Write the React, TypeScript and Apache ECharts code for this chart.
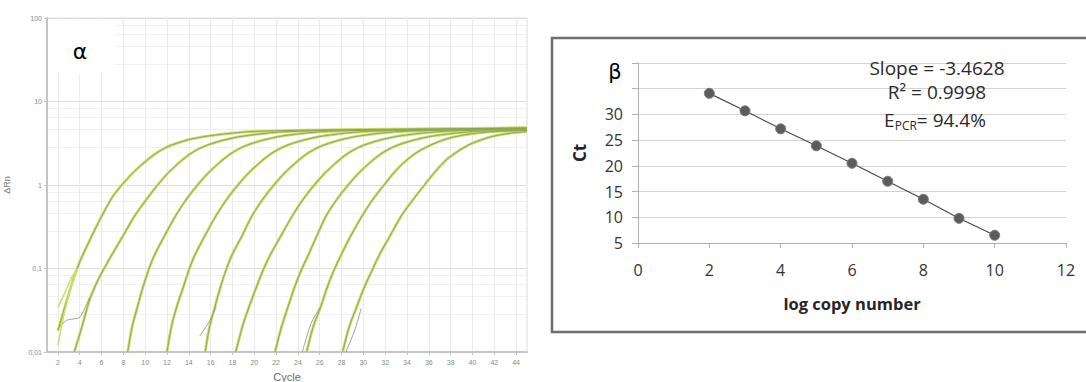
import React, { useEffect, useRef } from 'react';
import * as echarts from 'echarts';

// ---------- Left panel (α): amplification plot ----------
const cycleTicks = [2, 4, 6, 8, 10, 12, 14, 16, 18, 20, 22, 24, 26, 28, 30, 32, 34, 36, 38, 40, 42, 44];
const deltaRnLabels = ['0,01', '0,1', '1', '10', '100'];

const g1 = [[2, 0.018], [2.5, 0.03], [3, 0.05], [3.5, 0.08], [4, 0.12], [5, 0.23], [6, 0.42], [7, 0.72], [8, 1.05], [9, 1.45], [10, 1.9], [11, 2.4], [12, 2.85], [13, 3.2], [14, 3.5], [15, 3.72], [16, 3.9], [18, 4.18], [20, 4.38], [25, 4.55], [32, 4.65], [40, 4.75], [45, 4.85]];
const g2 = [[3.5, 0.01], [4.2, 0.02], [4.9, 0.042], [5.5, 0.065], [6, 0.088], [6.5, 0.115], [7, 0.15], [8, 0.25], [9, 0.42], [10, 0.64], [11, 0.95], [12, 1.35], [13, 1.8], [14, 2.3], [15, 2.75], [16, 3.1], [17, 3.4], [18, 3.65], [19, 3.85], [21, 4.15], [23, 4.35], [28, 4.55], [35, 4.65], [45, 4.8]];
const g3 = [[8.4, 0.01], [8.8, 0.02], [9.3, 0.035], [9.8, 0.06], [10.3, 0.095], [10.8, 0.14], [11.8, 0.25], [12.8, 0.43], [13.8, 0.68], [14.8, 1.0], [15.8, 1.4], [16.8, 1.85], [17.8, 2.35], [18.8, 2.8], [19.8, 3.15], [20.8, 3.45], [21.8, 3.7], [22.8, 3.9], [24.8, 4.2], [26.8, 4.4], [32, 4.55], [40, 4.65], [45, 4.75]];
const g4 = [[12.0, 0.01], [12.4, 0.02], [12.9, 0.035], [13.5, 0.06], [14.0, 0.095], [14.5, 0.14], [15.5, 0.25], [16.5, 0.43], [17.5, 0.68], [18.5, 1.0], [19.5, 1.4], [20.5, 1.85], [21.5, 2.35], [22.5, 2.8], [23.5, 3.15], [24.5, 3.45], [25.5, 3.7], [26.5, 3.9], [28.5, 4.2], [30.5, 4.4], [36, 4.55], [45, 4.7]];
const g5 = [[15.5, 0.01], [15.9, 0.02], [16.4, 0.035], [16.9, 0.06], [17.4, 0.095], [17.9, 0.14], [18.9, 0.25], [19.8, 0.43], [20.8, 0.68], [21.8, 1.0], [22.8, 1.4], [23.8, 1.85], [24.8, 2.35], [25.8, 2.8], [26.8, 3.15], [27.8, 3.45], [28.8, 3.7], [29.8, 3.9], [31.8, 4.2], [33.8, 4.4], [38, 4.55], [45, 4.7]];
const g6 = [[18.3, 0.01], [19, 0.022], [19.6, 0.037], [20.2, 0.06], [20.8, 0.095], [21.4, 0.14], [22.4, 0.24], [23.5, 0.43], [24.5, 0.68], [25.5, 1.0], [26.5, 1.4], [27.5, 1.85], [28.5, 2.35], [29.5, 2.8], [30.5, 3.15], [31.5, 3.45], [32.5, 3.7], [33.5, 3.9], [35.5, 4.2], [37.5, 4.4], [41, 4.55], [45, 4.65]];
const g7 = [[21.9, 0.01], [22.5, 0.02], [23.1, 0.035], [23.7, 0.06], [24.3, 0.095], [24.9, 0.14], [25.7, 0.24], [26.6, 0.43], [27.6, 0.68], [28.6, 1.0], [29.6, 1.4], [30.6, 1.85], [31.6, 2.35], [32.6, 2.8], [33.6, 3.15], [34.6, 3.45], [35.6, 3.7], [36.6, 3.9], [38.6, 4.2], [40.6, 4.4], [45, 4.55]];
const g8 = [[24.8, 0.01], [25.4, 0.02], [26.1, 0.035], [26.7, 0.06], [27.3, 0.095], [27.9, 0.14], [28.8, 0.24], [29.9, 0.43], [30.9, 0.68], [31.9, 1.0], [32.9, 1.45], [33.9, 1.95], [34.9, 2.45], [35.9, 2.9], [36.9, 3.3], [37.9, 3.65], [38.9, 3.9], [39.9, 4.1], [41.9, 4.35], [45, 4.5]];
const g9 = [[28.1, 0.01], [28.7, 0.02], [29.4, 0.035], [30.1, 0.06], [30.8, 0.095], [31.4, 0.14], [32.4, 0.24], [33.5, 0.43], [34.6, 0.68], [35.6, 1.0], [36.6, 1.45], [37.6, 2.0], [38.6, 2.5], [39.6, 3.0], [40.6, 3.4], [41.6, 3.75], [42.6, 4.0], [43.6, 4.2], [45, 4.35]];
const amplificationGroups = [g1, g2, g3, g4, g5, g6, g7, g8, g9];

// stray early replicate traces near the baseline
const s1 = [[2, 0.019], [2.8, 0.024], [4, 0.026], [4.9, 0.045]];
const s2 = [[2, 0.012], [2.6, 0.03], [3.2, 0.06], [3.8, 0.1]];
const s3 = [[2, 0.034], [2.6, 0.05], [3.2, 0.075], [3.8, 0.1]];
const s4 = [[15.0, 0.0155], [15.9, 0.0235], [16.5, 0.035]];
const s5 = [[24.4, 0.01], [25.2, 0.022], [26.0, 0.034]];
const s6 = [[28.4, 0.01], [29.2, 0.018], [29.8, 0.033]];
const grayStrays = [s1, s4, s5, s6];
const yellowStrays = [s2, s3];

// ---------- Right panel (β): standard curve ----------
const logCopies = [2, 3, 4, 5, 6, 7, 8, 9, 10];
const ctValues = [34.1, 30.7, 27.2, 23.9, 20.5, 17.0, 13.5, 9.8, 6.5];
const ctTickLabels = ['5', '10', '15', '20', '25', '30'];
const fitLines = ['Slope = -3.4628', 'R² = 0.9998', '= 94.4%'];

const LEFT_FONT = 'Liberation Sans, Arial, sans-serif';
const RIGHT_FONT = '"Open Sans", "Noto Sans", sans-serif';

export default function App() {
  const ref = useRef<HTMLDivElement>(null);

  useEffect(() => {
    const chart = echarts.init(ref.current as HTMLDivElement, null, { renderer: 'svg' });

    const series: any[] = [];
    amplificationGroups.forEach((g) => {
      series.push({
        type: 'line', xAxisIndex: 0, yAxisIndex: 0, data: g, showSymbol: false, smooth: 0.3,
        silent: true, z: 2, lineStyle: { color: '#cadd72', width: 2.8 },
      });
      series.push({
        type: 'line', xAxisIndex: 0, yAxisIndex: 0, data: g, showSymbol: false, smooth: 0.3,
        silent: true, z: 3, lineStyle: { color: '#8fa752', width: 1 },
      });
    });
    grayStrays.forEach((s) => {
      series.push({
        type: 'line', xAxisIndex: 0, yAxisIndex: 0, data: s, showSymbol: false, smooth: 0.2,
        silent: true, z: 4, lineStyle: { color: '#9ea28c', width: 1 },
      });
    });
    yellowStrays.forEach((s) => {
      series.push({
        type: 'line', xAxisIndex: 0, yAxisIndex: 0, data: s, showSymbol: false, smooth: 0.2,
        silent: true, z: 4, lineStyle: { color: '#cadd66', width: 1.5 },
      });
    });
    series.push({
      type: 'line', xAxisIndex: 1, yAxisIndex: 1,
      data: logCopies.map((x, i) => [x, ctValues[i]]),
      symbol: 'circle', symbolSize: 10,
      itemStyle: { color: '#5c5c5c', borderColor: '#7a7a7a', borderWidth: 1 },
      lineStyle: { color: '#4a4a4a', width: 1.2 },
      z: 5,
    });

    const option: any = {
      animation: false,
      backgroundColor: '#ffffff',
      grid: [
        {
          left: 47, top: 18, width: 480, height: 334, show: true, borderColor: '#dcdcdc', borderWidth: 1,
          backgroundColor: 'transparent', containLabel: false, outerBoundsMode: 'none',
        },
        { left: 638, top: 63, width: 428, height: 180, containLabel: false, outerBoundsMode: 'none' },
      ],
      xAxis: [
        {
          type: 'value', gridIndex: 0, min: 1, max: 45, interval: 1,
          name: 'Cycle', nameLocation: 'middle', nameGap: 19,
          nameTextStyle: { color: '#6a6a6a', fontSize: 11, fontFamily: LEFT_FONT },
          axisLine: { show: true, lineStyle: { color: '#c4c4c4', width: 2 } },
          axisTick: { show: true, customValues: cycleTicks, length: 3, lineStyle: { color: '#c4c4c4' } },
          axisLabel: { customValues: cycleTicks, color: '#8a8a8a', fontSize: 7, margin: 7, fontFamily: LEFT_FONT },
          splitLine: { show: true, lineStyle: { color: '#ebebeb', width: 1 } },
        },
        {
          type: 'value', gridIndex: 1, min: 0, max: 12, interval: 2,
          name: 'log copy number', nameLocation: 'middle', nameGap: 52,
          nameTextStyle: { color: '#262626', fontSize: 16.5, fontWeight: 'bold', fontFamily: RIGHT_FONT },
          axisLine: { show: true, lineStyle: { color: '#b0b0b0', width: 1 } },
          axisTick: { show: true, length: 5, lineStyle: { color: '#b0b0b0' } },
          axisLabel: { color: '#333333', fontSize: 16, margin: 19, fontFamily: RIGHT_FONT },
          splitLine: { show: false },
        },
      ],
      yAxis: [
        {
          type: 'log', logBase: 10, gridIndex: 0, min: 0.01, max: 100,
          name: 'ΔRn', nameLocation: 'middle', nameGap: 36, nameRotate: 90,
          nameTextStyle: { color: '#7a7a7a', fontSize: 9, fontFamily: LEFT_FONT },
          axisLine: { show: true, lineStyle: { color: '#c4c4c4', width: 2 } },
          axisTick: { show: true, length: 3, lineStyle: { color: '#c4c4c4' } },
          axisLabel: {
            color: '#8a8a8a', fontSize: 7, margin: 5, fontFamily: LEFT_FONT,
            formatter: (_v: number, i: number) => deltaRnLabels[i] ?? '',
          },
          splitLine: { show: true, lineStyle: { color: '#dedede', width: 1 } },
          minorTick: { show: false, splitNumber: 5 },
          minorSplitLine: { show: true, lineStyle: { color: '#f0f0f0', width: 1 } },
        },
        {
          type: 'value', gridIndex: 1, min: 5, max: 40, interval: 5,
          name: 'Ct', nameLocation: 'middle', nameGap: 50, nameRotate: 90,
          nameTextStyle: { color: '#262626', fontSize: 17, fontWeight: 'bold', fontFamily: RIGHT_FONT },
          axisLine: { show: true, lineStyle: { color: '#b0b0b0', width: 1 } },
          axisTick: { show: true, length: 6, lineStyle: { color: '#b0b0b0' } },
          axisLabel: {
            color: '#333333', fontSize: 16, margin: 15, fontFamily: RIGHT_FONT,
            formatter: (_v: number, i: number) => ctTickLabels[i] ?? '',
          },
          splitLine: { show: true, lineStyle: { color: '#d3d3d3', width: 1 } },
        },
      ],
      graphic: [
        { type: 'rect', z: 1, silent: true, shape: { x: 49, y: 19, width: 66, height: 55 }, style: { fill: '#ffffff' } },
        {
          type: 'text', z: 10, x: 80, y: 51,
          style: { text: 'α', fontSize: 22, fontFamily: 'DejaVu Sans, sans-serif', fill: '#000', textAlign: 'center', textVerticalAlign: 'middle' },
        },
        {
          type: 'rect', z: 10, silent: true, shape: { x: 552, y: 38, width: 545, height: 294 },
          style: { fill: 'none', stroke: '#6e6e6e', lineWidth: 2.5 },
        },
        {
          type: 'text', z: 10, x: 615, y: 72,
          style: { text: 'β', fontSize: 21, fontFamily: 'DejaVu Sans, sans-serif', fill: '#000', textAlign: 'center', textVerticalAlign: 'middle' },
        },
        {
          type: 'text', z: 10, x: 937, y: 68,
          style: { text: fitLines[0], fontSize: 19, fontFamily: RIGHT_FONT, fill: '#2a2a2a', textAlign: 'center', textVerticalAlign: 'middle' },
        },
        {
          type: 'text', z: 10, x: 937, y: 92,
          style: { text: fitLines[1], fontSize: 19, fontFamily: RIGHT_FONT, fill: '#2a2a2a', textAlign: 'center', textVerticalAlign: 'middle' },
        },
        {
          type: 'text', z: 10, x: 935, y: 120,
          style: {
            text: '{e|E}{s|PCR}{e|' + fitLines[2] + '}',
            textAlign: 'center', textVerticalAlign: 'middle',
            rich: {
              e: { fontSize: 19, fontFamily: RIGHT_FONT, fill: '#2a2a2a', color: '#2a2a2a', lineHeight: 19, verticalAlign: 'top' },
              s: { fontSize: 12, fontFamily: RIGHT_FONT, fill: '#2a2a2a', color: '#2a2a2a', lineHeight: 12, verticalAlign: 'top', padding: [9, 0, 0, 0] },
            },
          },
        },
      ],
      series,
    };

    chart.setOption(option);
    return () => chart.dispose();
  }, []);

  return (
    <div
      ref={ref}
      style={{ position: 'absolute', left: 0, top: 0, width: 1086, height: 382, background: '#ffffff' }}
    />
  );
}
